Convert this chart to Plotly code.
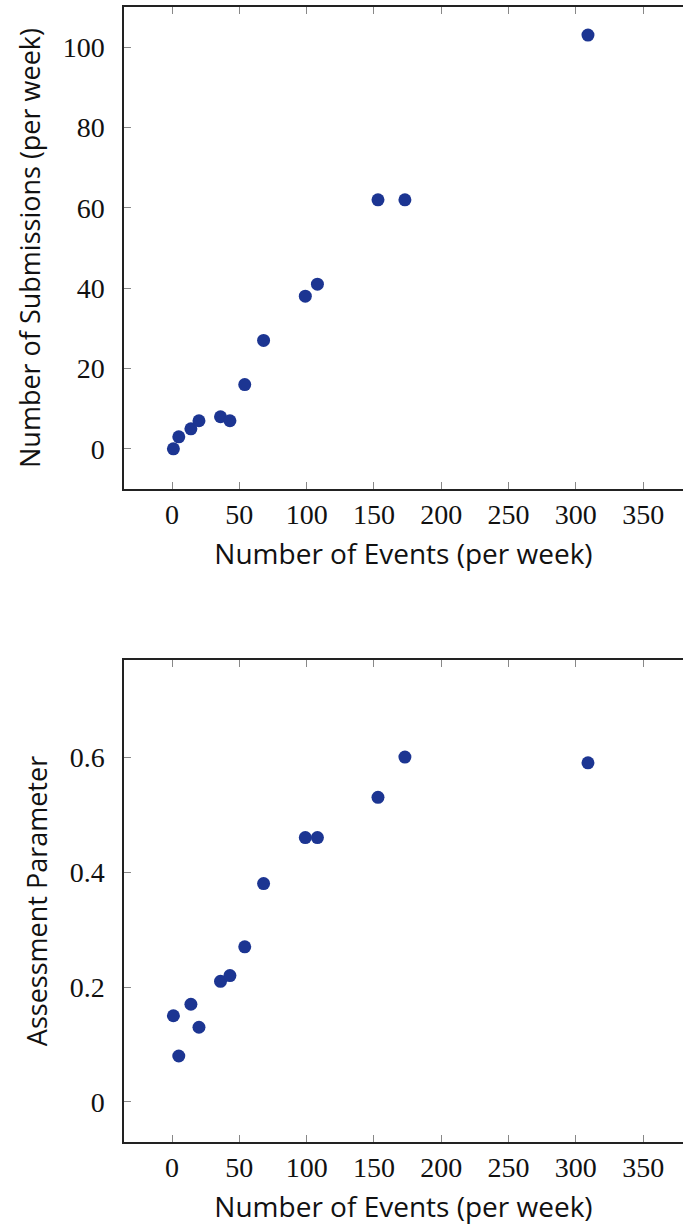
import plotly.graph_objects as go

events = [1, 5, 14, 20, 36, 43, 54, 68, 99, 108, 153, 173, 309]
submissions = [0, 3, 5, 7, 8, 7, 16, 27, 38, 41, 62, 62, 103]
assessment = [0.15, 0.08, 0.17, 0.13, 0.21, 0.22, 0.27, 0.38, 0.46, 0.46, 0.53, 0.60, 0.59]

x_ticks = [0, 50, 100, 150, 200, 250, 300, 350]
y1_ticks = [0, 20, 40, 60, 80, 100]
y2_ticks = [0, 0.2, 0.4, 0.6]
y2_ticktext = ["0", "0.2", "0.4", "0.6"]

MARK = "#1c3592"
LINE = "#222222"
SERIF = "Liberation Serif, DejaVu Serif, serif"
SANS = "Open Sans, DejaVu Sans, sans-serif"

fig = go.Figure()
fig.add_trace(go.Scatter(x=events, y=submissions, mode="markers",
                         marker=dict(color=MARK, size=13), xaxis="x", yaxis="y"))
fig.add_trace(go.Scatter(x=events, y=assessment, mode="markers",
                         marker=dict(color=MARK, size=13), xaxis="x2", yaxis="y2"))

xcommon = dict(range=[-35.7, 379.6], tickvals=x_ticks, ticks="inside", ticklen=7,
               tickcolor="#888", tickwidth=1, showline=True, linecolor=LINE, linewidth=1.5,
               mirror="ticks", showgrid=False, zeroline=False,
               tickfont=dict(family=SERIF, size=28, color="#111"),
               ticklabelstandoff=0,
               title=dict(text="Number of Events (per week)", font=dict(family=SANS, size=28, color="#111"),
                          standoff=15))
ycommon = dict(ticks="inside", ticklen=7, tickcolor="#888", tickwidth=1,
               showline=True, linecolor=LINE, linewidth=1.5, mirror=False,
               showgrid=False, zeroline=False,
               tickfont=dict(family=SERIF, size=28, color="#111"), ticklabelstandoff=12)

fig.update_layout(
    width=683, height=1226, showlegend=False,
    paper_bgcolor="white", plot_bgcolor="white",
    margin=dict(l=124, r=0, t=7, b=84),
    xaxis=dict(**xcommon, anchor="y"),
    xaxis2=dict(**xcommon, anchor="y2"),
    yaxis=dict(**ycommon, domain=[0.5753, 1.0], range=[-10, 110], tickvals=y1_ticks,
               title=dict(text="Number of Submissions (per week)", font=dict(family=SANS, size=27, color="#111"),
                          standoff=14)),
    yaxis2=dict(**ycommon, domain=[0.0, 0.4247], range=[-0.0696, 0.769], tickvals=y2_ticks,
                ticktext=y2_ticktext,
                title=dict(text="Assessment Parameter", font=dict(family=SANS, size=27, color="#111"),
                           standoff=14)),
)

fig.write_html("out.html")
